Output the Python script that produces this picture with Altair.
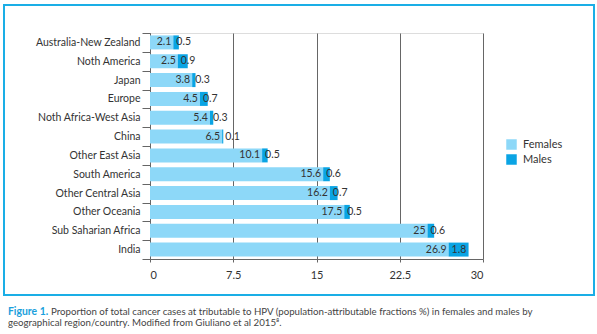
import altair as alt
import pandas as pd

regions = ["Australia-New Zealand", "Noth America", "Japan", "Europe",
           "Noth Africa-West Asia", "China", "Other East Asia", "South America",
           "Other Central Asia", "Other Oceania", "Sub Saharian Africa", "India"]
females = [2.1, 2.5, 3.8, 4.5, 5.4, 6.5, 10.1, 15.6, 16.2, 17.5, 25, 26.9]
males = [0.5, 0.9, 0.3, 0.7, 0.3, 0.1, 0.5, 0.6, 0.7, 0.5, 0.6, 1.8]
x_ticks = [0, 7.5, 15, 22.5, 30]
series = ["Females", "Males"]
colors = ["#8dd8f8", "#0aa4e4"]

FONT = "Lato"
TXT = "#333333"

rows = []
for r, f, m in zip(regions, females, males):
    rows.append({"region": r, "sex": "Females", "value": f, "order": 0})
    rows.append({"region": r, "sex": "Males", "value": m, "order": 1})
long = pd.DataFrame(rows)

lab = pd.DataFrame({
    "region": regions,
    "f": females,
    "m": males,
    "flab": [f"{v:g}" for v in females],
    "mlab": [f"{v:g}" for v in males],
})

yenc = alt.Y("region:N", sort=regions, title=None,
             scale=alt.Scale(paddingInner=0, paddingOuter=0),
             axis=alt.Axis(labelFont=FONT, labelFontSize=10.5, labelColor=TXT,
                           tickBand="extent", tickSize=8, tickColor="#666666",
                           domainColor="#666666", labelPadding=2,
                           labelLimit=200))

xscale = alt.Scale(domain=[0, 30], nice=False)

bars = alt.Chart(long).mark_bar(size=14).encode(
    y=yenc,
    x=alt.X("value:Q", stack="zero", scale=xscale, title=None,
            axis=alt.Axis(values=x_ticks, grid=True, gridColor="#666666",
                          gridOpacity=1, domainColor="#666666",
                          tickColor="#666666", tickSize=3,
                          labelFont=FONT, labelFontSize=11, labelColor=TXT,
                          labelPadding=7, labelExpr="'' + datum.value")),
    color=alt.Color("sex:N", scale=alt.Scale(domain=series, range=colors),
                    legend=alt.Legend(title=None, orient="none",
                                      legendX=356, legendY=106,
                                      symbolType="square", symbolSize=110,
                                      symbolStrokeWidth=0, symbolOpacity=1,
                                      labelFont=FONT, labelFontSize=11,
                                      labelColor=TXT, rowPadding=3,
                                      labelOffset=6)),
    order=alt.Order("order:Q"),
)

ftext = alt.Chart(lab).mark_text(align="right", dx=-2, font=FONT,
                                 fontSize=10.5, color=TXT).encode(
    y=alt.Y("region:N", sort=regions),
    x=alt.X("f:Q", scale=xscale),
    text="flab:N",
)
mtext = alt.Chart(lab).mark_text(align="left", dx=3, font=FONT,
                                 fontSize=10.5, color=TXT).encode(
    y=alt.Y("region:N", sort=regions),
    x=alt.X("f:Q", scale=xscale),
    text="mlab:N",
)

one = pd.DataFrame({"a": [0]})
border = alt.Chart(one).mark_rect(fill=None, stroke="#1aaee6",
                                  strokeWidth=2).encode(
    x=alt.value(-146), x2=alt.value(444),
    y=alt.value(-28), y2=alt.value(262),
)

cap_head = alt.Chart(one).mark_text(align="left", baseline="alphabetic",
                                    font=FONT, fontSize=10.4,
                                    fontWeight="bold", color="#1aa0dc").encode(
    x=alt.value(-142), y=alt.value(281.5), text=alt.value("Figure 1."))
cap1 = alt.Chart(one).mark_text(align="left", baseline="alphabetic",
                                font=FONT, fontSize=9.7, color="#444444").encode(
    x=alt.value(-99), y=alt.value(281.5),
    text=alt.value("Proportion of total cancer cases at tributable to HPV (population-attributable fractions %) in females and males by"))
cap2 = alt.Chart(one).mark_text(align="left", baseline="alphabetic",
                                font=FONT, fontSize=9.7, color="#444444").encode(
    x=alt.value(-142), y=alt.value(293),
    text=alt.value("geographical region/country. Modified from Giuliano et al 2015\u2078."))

chart = alt.layer(border, bars, ftext, mtext, cap_head, cap1, cap2).properties(
    width=333, height=226,
    autosize=alt.AutoSizeParams(type="none"),
    padding={"left": 150, "top": 33, "right": 114, "bottom": 75},
).configure_view(stroke=None).configure(background="white")

chart.save("out.html", embed_options={"renderer": "svg", "actions": False})
